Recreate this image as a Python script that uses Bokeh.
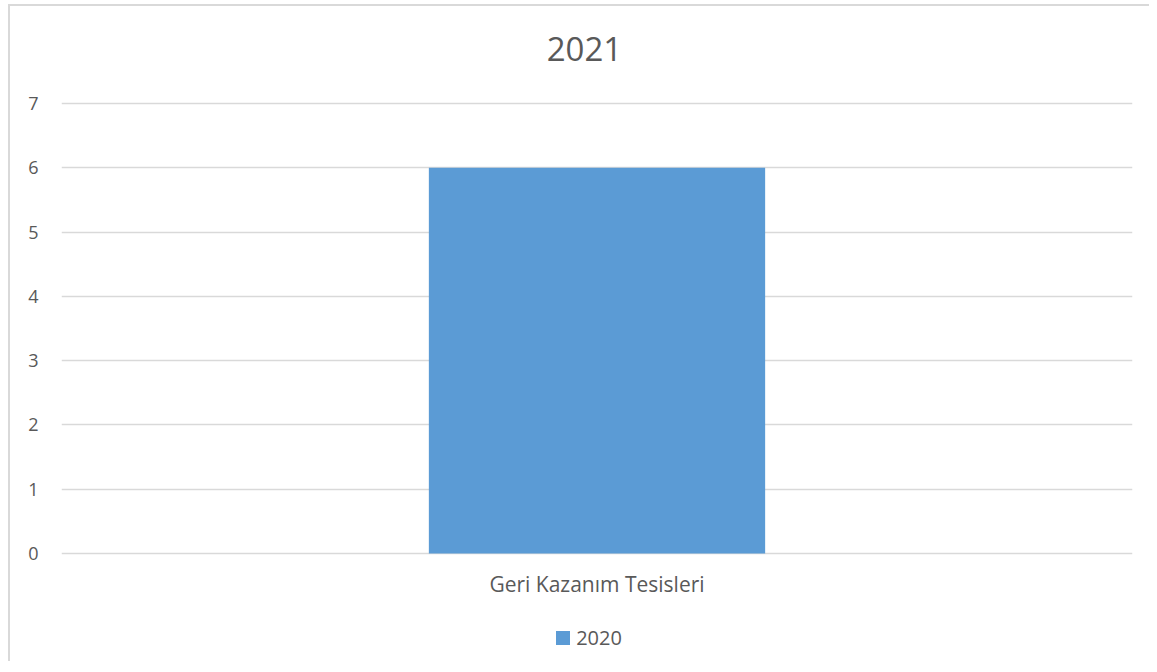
from bokeh.plotting import figure
from bokeh.layouts import column
from bokeh.models import (FactorRange, Range1d, FixedTicker, ColumnDataSource, Div)
from bokeh.embed import file_html
from bokeh.resources import INLINE

title_text = "2021"
categories = ["Geri Kazanım Tesisleri"]
series_name = "2020"
values = [6]
y_ticks = [0, 1, 2, 3, 4, 5, 6, 7]

FONT = "Open Sans"
TXT = "#595959"
GRID = "#d9d9d9"
BAR = "#5b9bd5"
W, H = 1139, 524

src = ColumnDataSource(dict(cat=categories, val=values))

p = figure(x_range=FactorRange(*categories),
           y_range=Range1d(y_ticks[0] - 0.03, y_ticks[-1] + 0.03),
           width=W, height=H, output_backend="svg", toolbar_location=None,
           title=None, margin=0,
           min_border_left=51, min_border_right=17, min_border_top=10, min_border_bottom=60)
p.outline_line_color = None
p.background_fill_color = "white"
p.border_fill_color = "white"

r = p.vbar(x="cat", top="val", width=0.314, source=src, fill_color=BAR, line_color=None)

# axes
p.yaxis.ticker = FixedTicker(ticks=y_ticks)
p.yaxis.axis_line_color = None
p.yaxis.major_tick_line_color = None
p.yaxis.minor_tick_line_color = None
p.yaxis.major_label_standoff = 17
p.yaxis.major_label_text_font = FONT
p.yaxis.major_label_text_font_size = "18px"
p.yaxis.major_label_text_color = TXT

p.xaxis.axis_line_color = None
p.xaxis.major_tick_line_color = None
p.xaxis.minor_tick_line_color = None
p.xaxis.major_label_standoff = 8
p.xaxis.major_label_text_font = FONT
p.xaxis.major_label_text_font_size = "21px"
p.xaxis.major_label_text_color = TXT

p.xgrid.grid_line_color = None
p.ygrid.grid_line_color = GRID
p.ygrid.grid_line_width = 1.5

title_html = (
    '<div style="display:flex;align-items:center;justify-content:center;'
    'width:%dpx;height:85px;padding-left:10px;box-sizing:border-box;'
    "font-family:'Open Sans';font-size:33px;color:%s;\">%s</div>" % (W, TXT, title_text)
)
title_div = Div(text=title_html, width=W, height=85, margin=0)

legend_html = (
    '<div style="display:flex;align-items:center;justify-content:center;'
    'width:%dpx;height:46px;padding-left:19px;box-sizing:border-box;'
    "font-family:'Open Sans';font-size:20px;color:%s;\">"
    '<span style="display:inline-block;width:14px;height:14px;background:%s;'
    'margin-right:6px;"></span><span>%s</span></div>' % (W, TXT, BAR, series_name)
)
legend_div = Div(text=legend_html, width=W, height=46, margin=0)

layout = column(title_div, p, legend_div, spacing=0,
                styles={"margin-left": "8px", "margin-top": "4px",
                        "border-left": "2px solid #d9d9d9",
                        "border-top": "2px solid #d9d9d9",
                        "background": "white"})

open("out.html", "w").write(file_html(layout, INLINE))
